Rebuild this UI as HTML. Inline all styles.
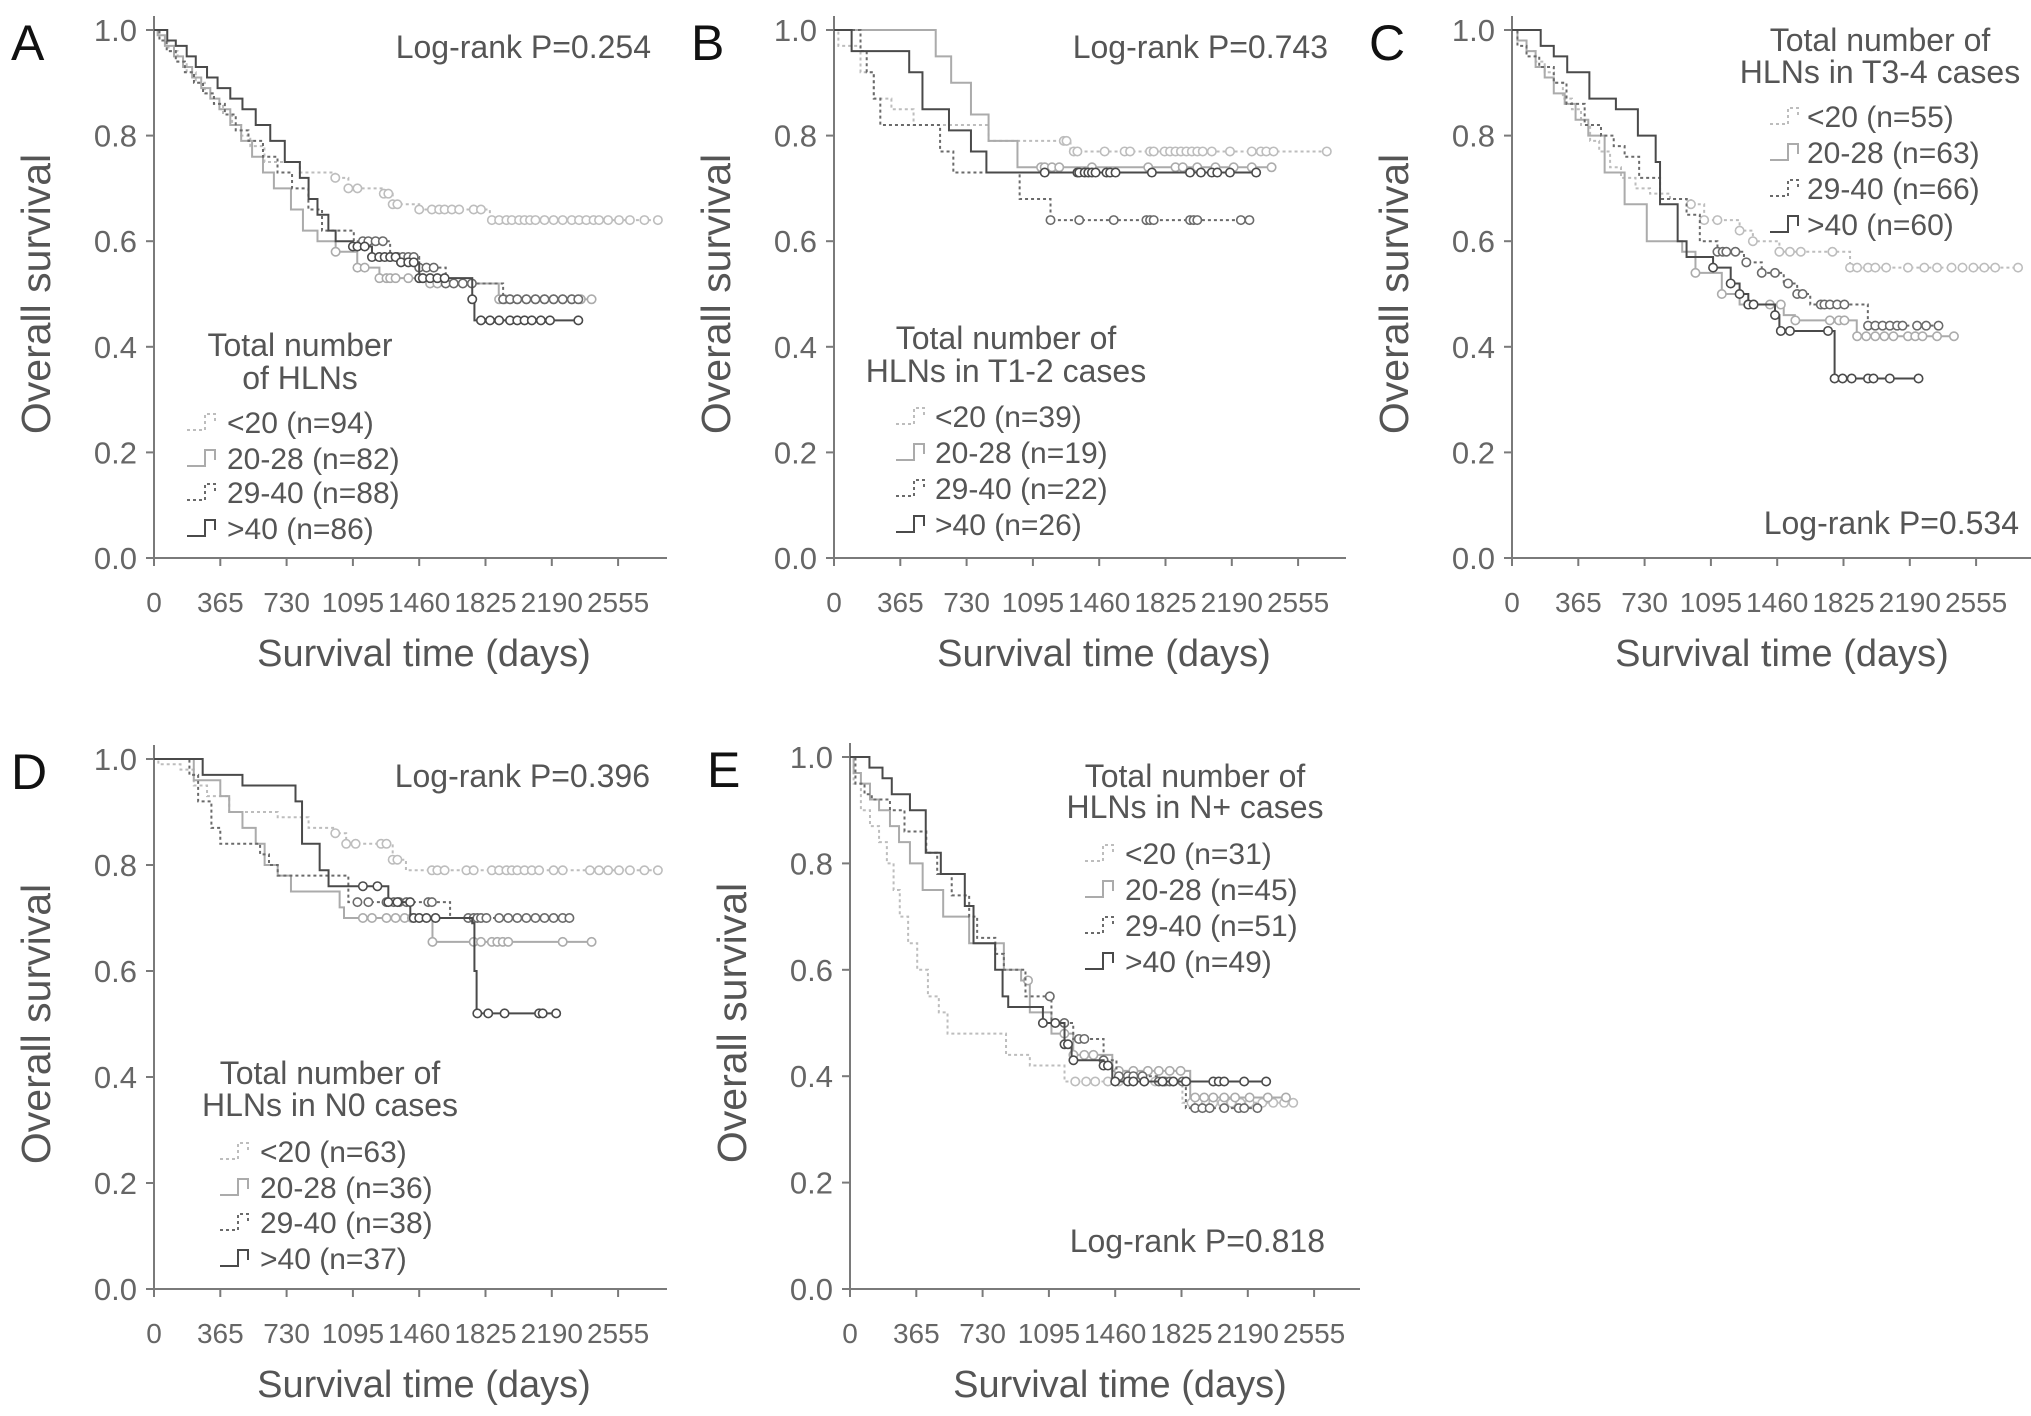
<!DOCTYPE html>
<html><head><meta charset="utf-8"><style>
html,body{margin:0;padding:0;background:#fff;}
svg{display:block;font-family:"Liberation Sans",Arial,sans-serif;}
</style></head><body>
<svg id="fig" width="2031" height="1416" viewBox="0 0 2031 1416" xmlns="http://www.w3.org/2000/svg"></svg>
<script>
// ===== Data (days, survival) =====
const xTicks=[0,365,730,1095,1460,1825,2190,2555];
const yTicks=[0,0.2,0.4,0.6,0.8,1.0];
const groupLabels=["<20","20-28","29-40",">40"];
// Panel A
const A_n=[94,82,88,86];
const A0_t=[30,80,130,180,230,280,330,380,430,480,530,608,803,998,1070,1265,1314,1460,1849];
const A0_s=[.98,.96,.94,.92,.9,.88,.86,.84,.82,.8,.78,.75,.73,.72,.70,.69,.67,.66,.64];
const A0_c=[998,1070,1120,1265,1290,1314,1340,1460,1530,1570,1600,1640,1680,1760,1800,1860,1900,1940,1970,2010,2040,2070,2100,2150,2200,2250,2300,2340,2380,2420,2450,2500,2560,2620,2700,2774];
const A1_t=[20,60,110,160,210,260,310,360,420,480,540,600,660,754,820,900,1000,1119,1241,1500,1898];
const A1_s=[.99,.97,.95,.93,.91,.89,.87,.85,.82,.79,.76,.73,.7,.66,.62,.6,.58,.55,.53,.52,.49];
const A1_c=[1000,1120,1160,1241,1280,1300,1330,1400,1480,1520,1560,1900,1930,1960,2000,2050,2100,2150,2200,2250,2300,2350,2409];
const A2_t=[30,70,120,170,220,270,330,390,450,520,600,680,760,850,925,1100,1300,1460,1606,1922];
const A2_s=[.98,.96,.94,.92,.9,.88,.86,.84,.81,.79,.76,.73,.7,.66,.62,.6,.57,.55,.52,.49];
const A2_c=[1150,1180,1220,1260,1300,1340,1370,1400,1430,1460,1500,1540,1606,1650,1700,1750,1922,1960,2000,2050,2100,2150,2200,2250,2300,2336];
const A3_t=[73,120,180,230,292,350,420,487,560,640,720,803,851,900,960,1000,1095,1200,1338,1460,1752,1764];
const A3_s=[.98,.97,.95,.93,.91,.89,.87,.85,.82,.79,.75,.72,.68,.65,.62,.6,.59,.57,.56,.53,.49,.45];
const A3_c=[1095,1120,1160,1200,1240,1270,1300,1330,1360,1400,1430,1460,1480,1520,1560,1600,1752,1800,1850,1900,1960,2000,2040,2080,2130,2180,2336];
// Panel B
const B_n=[39,19,22,26];
const B0_t=[24,146,219,316,438,851,1302];
const B0_s=[.97,.92,.87,.85,.82,.79,.77];
const B0_c=[1265,1280,1320,1340,1490,1600,1630,1740,1760,1820,1850,1880,1910,1940,1970,2000,2030,2080,2180,2300,2350,2380,2420,2713];
const B1_t=[560,645,754,851,1010];
const B1_s=[.95,.9,.84,.79,.74];
const B1_c=[1140,1160,1200,1240,1420,1730,1880,1920,2000,2100,2200,2300,2409];
const B2_t=[146,180,219,255,584,657,1022,1192];
const B2_s=[.96,.92,.87,.82,.77,.73,.68,.64];
const B2_c=[1192,1350,1540,1720,1740,1760,1960,1980,2000,2240,2287];
const B3_t=[97,414,487,633,754,839];
const B3_s=[.96,.92,.85,.81,.77,.73];
const B3_c=[1160,1340,1350,1380,1400,1420,1440,1500,1520,1550,1750,1960,2020,2080,2110,2180,2324];
// Panel C
const C_n=[55,63,66,60];
const C0_t=[30,80,130,180,230,280,330,380,430,480,540,600,680,760,870,985,1058,1253,1326,1472,1861];
const C0_s=[.98,.96,.94,.92,.9,.87,.85,.82,.79,.77,.74,.72,.7,.69,.68,.67,.64,.62,.6,.58,.55];
const C0_c=[985,1058,1131,1253,1326,1472,1530,1590,1764,1861,1900,1960,2000,2060,2180,2270,2340,2420,2480,2540,2600,2660,2786];
const C1_t=[30,80,130,180,230,290,350,420,510,620,742,937,1010,1155,1253,1496,1557,1898];
const C1_s=[.98,.96,.93,.91,.88,.86,.83,.8,.73,.67,.6,.58,.54,.5,.48,.46,.45,.42];
const C1_c=[1010,1155,1300,1330,1420,1480,1560,1750,1800,1830,1900,1950,2000,2050,2100,2180,2220,2260,2340,2433];
const C2_t=[30,80,150,230,300,400,490,560,620,700,815,961,1034,1131,1277,1375,1496,1570,1642,1959];
const C2_s=[.97,.95,.93,.9,.86,.82,.8,.78,.76,.72,.68,.65,.6,.58,.56,.54,.52,.5,.48,.44];
const C2_c=[1131,1160,1180,1230,1290,1375,1448,1520,1570,1600,1700,1720,1750,1790,1830,1960,2000,2040,2080,2120,2150,2230,2280,2348];
const C3_t=[158,230,304,426,572,693,791,815,912,961,1107,1204,1253,1301,1448,1472,1776];
const C3_s=[.97,.95,.92,.87,.85,.8,.75,.67,.6,.57,.55,.52,.5,.48,.46,.43,.34];
const C3_c=[1107,1204,1253,1301,1330,1448,1480,1530,1740,1776,1820,1870,1960,1990,2080,2238];
// Panel D
const D_n=[63,36,38,37];
const D0_t=[24,146,219,292,414,681,851,998,1058,1314,1387];
const D0_s=[.99,.98,.95,.93,.9,.89,.87,.86,.84,.81,.79];
const D0_c=[998,1058,1110,1250,1280,1314,1340,1530,1560,1600,1720,1760,1860,1900,1940,1970,2000,2040,2080,2120,2200,2250,2400,2450,2500,2560,2620,2700,2774];
const D1_t=[219,365,414,487,560,609,681,754,1022,1046,1533];
const D1_s=[.96,.93,.9,.87,.84,.8,.78,.75,.72,.7,.655];
const D1_c=[1150,1200,1280,1330,1380,1420,1460,1533,1760,1800,1860,1890,1920,1950,2250,2409];
const D2_t=[195,243,316,365,584,633,681,1070,1630];
const D2_s=[.97,.92,.87,.84,.82,.8,.78,.73,.7];
const D2_c=[1120,1180,1280,1320,1350,1390,1510,1530,1730,1760,1780,1800,1830,1900,1950,2000,2050,2100,2150,2200,2250,2287];
const D3_t=[268,487,779,815,912,961,1290,1411,1752,1764,1776];
const D3_s=[.97,.95,.92,.84,.79,.76,.73,.7,.69,.6,.52];
const D3_c=[1150,1230,1290,1340,1410,1430,1460,1500,1550,1780,1840,1930,2120,2140,2214];
// Panel E
const E_n=[31,45,51,49];
const E0_t=[20,60,110,160,203,240,274,320,370,429,489,537,859,990,1181,1830];
const E0_s=[.95,.9,.87,.84,.8,.75,.7,.65,.6,.55,.52,.48,.44,.42,.39,.35];
const E0_c=[1240,1300,1350,1420,1480,1620,1680,1740,1780,1880,1920,1960,2000,2050,2100,2150,2200,2270,2330,2390,2440];
const E1_t=[20,60,110,160,220,270,330,400,513,656,847,942,990,1109,1229,1444,1873];
const E1_s=[.97,.95,.92,.9,.87,.84,.8,.75,.7,.65,.6,.58,.52,.48,.44,.41,.36];
const E1_c=[980,1180,1230,1290,1340,1480,1560,1640,1700,1760,1820,1900,1950,2000,2060,2120,2200,2300,2400];
const E2_t=[30,80,120,220,300,420,480,560,656,700,800,847,966,1109,1229,1396,1467,1700,1849];
const E2_s=[.95,.93,.92,.9,.86,.82,.78,.74,.7,.66,.63,.6,.55,.5,.47,.43,.4,.39,.34];
const E2_c=[1100,1180,1260,1290,1396,1480,1530,1560,1610,1700,1730,1760,1830,1900,1940,1980,2060,2140,2170,2243];
const E3_t=[107,179,230,330,417,500,632,680,799,840,871,1062,1181,1220,1396,1444];
const E3_s=[.98,.96,.93,.9,.82,.78,.72,.65,.6,.55,.53,.5,.46,.43,.42,.39];
const E3_c=[1062,1130,1181,1200,1230,1396,1420,1460,1530,1560,1620,1720,1780,1850,2000,2030,2060,2170,2291];

const styles=[{c:"#bdbdbd",d:"3,3"},{c:"#ababab",d:""},{c:"#6a6a6a",d:"3,3"},{c:"#4a4a4a",d:""}];

const panels=[
 {id:"a",L:"A",ax:154,y0:558,y1:30,xEnd:667,n:A_n,S:[[A0_t,A0_s,A0_c],[A1_t,A1_s,A1_c],[A2_t,A2_s,A2_c],[A3_t,A3_s,A3_c]],
  lr:{t:"Log-rank P=0.254",x:651,y:58},title:["Total number","of HLNs"],tx:300,ty:[356,389],ey:[422,458,492,528],sx:187,txx:227},
 {id:"b",L:"B",ax:834,y0:558,y1:30,xEnd:1346,n:B_n,S:[[B0_t,B0_s,B0_c],[B1_t,B1_s,B1_c],[B2_t,B2_s,B2_c],[B3_t,B3_s,B3_c]],
  lr:{t:"Log-rank P=0.743",x:1328,y:58},title:["Total number of","HLNs in T1-2 cases"],tx:1006,ty:[349,382],ey:[416,452,488,524],sx:896,txx:935},
 {id:"c",L:"C",ax:1512,y0:558,y1:30,xEnd:2031,n:C_n,S:[[C0_t,C0_s,C0_c],[C1_t,C1_s,C1_c],[C2_t,C2_s,C2_c],[C3_t,C3_s,C3_c]],
  lr:{t:"Log-rank P=0.534",x:2019,y:534},title:["Total number of","HLNs in T3-4 cases"],tx:1880,ty:[51,83],ey:[116,152,188,224],sx:1770,txx:1807},
 {id:"d",L:"D",ax:154,y0:1289,y1:759,xEnd:667,n:D_n,S:[[D0_t,D0_s,D0_c],[D1_t,D1_s,D1_c],[D2_t,D2_s,D2_c],[D3_t,D3_s,D3_c]],
  lr:{t:"Log-rank P=0.396",x:650,y:787},title:["Total number of","HLNs in N0 cases"],tx:330,ty:[1084,1116],ey:[1151,1187,1222,1258],sx:220,txx:260},
 {id:"e",L:"E",ax:850,y0:1289,y1:757,xEnd:1360,n:E_n,S:[[E0_t,E0_s,E0_c],[E1_t,E1_s,E1_c],[E2_t,E2_s,E2_c],[E3_t,E3_s,E3_c]],
  lr:{t:"Log-rank P=0.818",x:1325,y:1252},title:["Total number of","HLNs in N+ cases"],tx:1195,ty:[787,818],ey:[853,889,925,961],sx:1085,txx:1125}
];

const NS="http://www.w3.org/2000/svg";
const svg=document.getElementById("fig");
function mk(tag,attrs,parent){const e=document.createElementNS(NS,tag);for(const k in attrs)e.setAttribute(k,attrs[k]);(parent||svg).appendChild(e);return e;}
function txt(str,attrs,parent){const e=mk("text",attrs,parent);e.textContent=str;return e;}
const PX_PER_DAY=66.3/365;

panels.forEach(p=>{
  const g=mk("g",{});
  
  
  const X=d=>p.ax+d*PX_PER_DAY;
  const Y=s=>p.y0-(p.y0-p.y1)*s;
  const axes=mk("g",{stroke:"#7a7a7a","stroke-width":2,fill:"none"},g);
  
  
  mk("line",{x1:p.ax,y1:p.y1-14,x2:p.ax,y2:p.y0},axes);
  mk("line",{x1:p.ax,y1:p.y0,x2:p.xEnd,y2:p.y0},axes);
  yTicks.forEach(v=>{
    mk("line",{x1:p.ax-8,y1:Y(v),x2:p.ax,y2:Y(v)},axes);
    const t=txt(v.toFixed(1),{x:p.ax-17,y:Y(v)+11,"text-anchor":"end","font-size":31,fill:"#666"},g);
    
    
  });
  xTicks.forEach(v=>{
    mk("line",{x1:X(v),y1:p.y0,x2:X(v),y2:p.y0+8},axes);
    const t=txt(String(v),{x:X(v),y:p.y0+54,"text-anchor":"middle","font-size":28,fill:"#666"},g);
    
    
  });
  const yt=txt("Overall survival",{x:0,y:0,transform:`translate(${p.ax-104},${(p.y0+p.y1)/2}) rotate(-90)`,"text-anchor":"middle","font-size":41,fill:"#555"},g);
  
  
  const xt=txt("Survival time (days)",{x:p.ax+270,y:p.y0+108,"text-anchor":"middle","font-size":38,fill:"#555"},g);
  
  
  const pl=txt(p.L,{x:p.ax-143,y:p.y1+30,"font-size":50,fill:"#111"},g);
  
  
  const lr=txt(p.lr.t,{x:p.lr.x,y:p.lr.y,"text-anchor":"end","font-size":32,fill:"#555"},g);
  
  
  p.S.forEach((ser,i)=>{
    const [t,s,c]=ser; const st=styles[i];
    const sg=mk("g",{},g);
    
    
    let d=`M${X(0)},${Y(1)}`;
    for(let k=0;k<t.length;k++){d+=` H${X(t[k])} V${Y(s[k])}`;}
    const end=Math.max(c[c.length-1],t[t.length-1]);
    d+=` H${X(end)}`;
    mk("path",{d:d,fill:"none",stroke:st.c,"stroke-width":2,"stroke-dasharray":st.d},sg);
    c.forEach(ct=>{
      let v=1; for(let k=0;k<t.length;k++){if(t[k]<=ct)v=s[k];}
      const ci=mk("circle",{cx:X(ct),cy:Y(v),r:4.2,fill:"#fff",stroke:st.c,"stroke-width":1.6},sg);
      
      
    });
  });
  const lg=mk("g",{},g);
  
  
  p.title.forEach((line,k)=>{
    const tt=txt(line,{x:p.tx,y:p.ty[k],"text-anchor":"middle","font-size":32,fill:"#555"},lg);
    
    
  });
  p.ey.forEach((y,i)=>{
    const st=styles[i];
    const e=mk("g",{},lg);
    
    
    mk("path",{d:`M${p.sx},${y+8} H${p.sx+18} V${y-8} H${p.sx+28} V${y+2}`,fill:"none",stroke:st.c,"stroke-width":2,"stroke-dasharray":st.d},e);
    txt(`${groupLabels[i]} (n=${p.n[i]})`,{x:p.txx,y:y+11,"font-size":30,fill:"#555"},e);
  });
});
</script>
</body></html>
